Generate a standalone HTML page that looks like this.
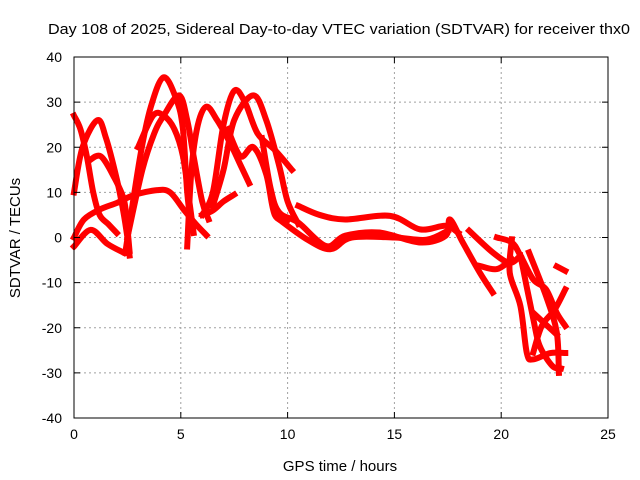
<!DOCTYPE html>
<html><head><meta charset="utf-8"><style>
body{margin:0;background:#fff;}
svg{display:block;font-family:"Liberation Sans",sans-serif;}
</style></head><body>
<svg id="chart" width="640" height="480" viewBox="0 0 640 480" xmlns="http://www.w3.org/2000/svg">
<rect width="640" height="480" fill="#fff"/>
<g id="grid"></g>
<g id="series"></g>
<g id="axes"></g>
<text x="339" y="34" font-size="15" text-anchor="middle" textLength="582" lengthAdjust="spacingAndGlyphs">Day 108 of 2025, Sidereal Day-to-day VTEC variation (SDTVAR) for receiver thx0</text>
<text x="340" y="471" font-size="15" text-anchor="middle">GPS time / hours</text>
<text transform="translate(20,238) rotate(-90)" font-size="15" text-anchor="middle">SDTVAR / TECUs</text>
</svg>
<script>
const xTicks=[0,5,10,15,20,25];
const yTicks=[-40,-30,-20,-10,0,10,20,30,40];
const arcs=[
[[0,27],[0.3,24],[0.6,18],[0.9,10],[1.2,5],[1.6,3],[2.0,1]],
[[0,10],[0.4,20],[1.1,26],[1.5,22],[2,13],[2.3,6],[2.5,0],[2.6,-4]],
[[0.7,17],[1.25,18],[1.87,13.4],[2.34,8.3],[2.5,2],[2.6,-3]],
[[0,-2],[0.78,1.7],[1.56,-1.4],[2.34,-3.4]],
[[0,0],[0.47,4],[1.25,6.3],[2.03,7.7],[2.8,9.4],[3.9,10.5],[4.5,10],[5.15,6.1],[5.7,3],[6.2,0.5]],
[[2.4,-3.4],[3.1,18],[3.6,29],[4.2,35.5],[4.8,30.5],[5.1,24],[5.3,10],[5.5,2]],
[[2.5,0],[3.2,15],[3.75,23],[4.2,27],[4.92,31.5],[5.3,26],[5.6,18],[6.0,8],[6.3,4]],
[[3.0,20],[3.7,27],[4.2,27],[4.7,24],[5.1,18],[5.4,8],[5.6,1]],
[[5.3,-2],[5.5,15],[5.8,25],[6.2,29],[6.7,26],[7.3,21],[7.8,16],[8.2,12]],
[[6,5],[6.5,10],[7,25],[7.5,32.5],[8,30],[8.6,23],[9.4,19.4],[10.2,15]],
[[6.5,7],[7,15],[7.5,26],[8.4,31.5],[9,26],[9.6,16],[10,8],[10.5,3]],
[[6,5],[6.5,6],[7,8],[7.5,9.5]],
[[7.2,24],[7.8,18],[8.4,20],[9,14],[9.4,5],[10,4]],
[[8.8,22],[9.2,11],[9.6,5.6],[10.5,3.3],[11.8,-1.9],[12.7,0.4],[14.3,1.1],[16.2,-1.1],[17.4,0.4],[17.6,4],[18.2,-1.1],[19,-7.8],[19.6,-12.2]],
[[10.5,7],[11.5,5],[12.7,4],[14.8,4.8],[16.2,1.8],[17.4,2.6],[18,1]],
[[9.6,4],[10.9,-0.4],[12,-2.6],[13,0],[15,0],[16.5,-0.5],[17.5,1.5]],
[[18.5,1.5],[19.6,-3.3],[20.4,-5.6],[20.9,-4]],
[[19,-6.3],[19.8,-7],[20.5,-4.8]],
[[19.8,0],[20.5,-1.1],[20.9,-4],[21.5,-9.3],[22.1,-11.5],[22.6,-16.7],[23,-19.6]],
[[20.5,-0.4],[20.4,-7.8],[20.9,-15.2],[21.2,-25.6],[21.5,-27],[22.3,-25.6],[23,-25.6]],
[[21.3,-3.3],[22.1,-13],[22.6,-21],[22.7,-30]],
[[20.9,-4],[21.5,-18],[21.8,-24],[22.4,-28.5],[22.8,-29]],
[[23,-11.5],[22.5,-16],[21.9,-19.6],[21.5,-25.5]],
[[21.5,-16.7],[22.6,-21.5]],
[[22.6,-6.4],[23,-7.4]]
];
const L=74,R=608,T=57,B=418;
const xs=v=>L+(v-0)/25*(R-L);
const ys=v=>B-(v+40)/80*(B-T);
const NS='http://www.w3.org/2000/svg';
const grid=document.getElementById('grid'),axes=document.getElementById('axes'),ser=document.getElementById('series');
function mk(tag,attrs,parent){const e=document.createElementNS(NS,tag);for(const k in attrs)e.setAttribute(k,attrs[k]);parent.appendChild(e);return e;}
xTicks.forEach(t=>{
 const x=xs(t);
 if(t>0&&t<25){const g=mk('line',{x1:x,x2:x,y1:T,y2:B,stroke:'#a0a0a0','stroke-dasharray':'2,3','stroke-width':1},grid);
 
 }
 const tk=mk('path',{d:`M${x},${B}v-6M${x},${T}v6`,stroke:'#000'},axes);
 
 
 const lb=mk('text',{x:x,y:B+21,'font-size':14,'text-anchor':'middle'},axes);lb.textContent=t;
 
 
});
yTicks.forEach(t=>{
 const y=ys(t);
 if(t>-40&&t<40){const g=mk('line',{x1:L,x2:R,y1:y,y2:y,stroke:'#a0a0a0','stroke-dasharray':'2,3','stroke-width':1},grid);
 
 }
 const tk=mk('path',{d:`M${L},${y}h6M${R},${y}h-6`,stroke:'#000'},axes);
 
 
 const lb=mk('text',{x:L-12,y:y+5,'font-size':14,'text-anchor':'end'},axes);lb.textContent=t;
 
 
});
const fr=mk('rect',{x:L,y:T,width:R-L,height:B-T,fill:'none',stroke:'#000','stroke-width':1},axes);


function smooth(pts){
 let d='M'+pts[0][0]+','+pts[0][1];
 for(let i=0;i<pts.length-1;i++){
  const p0=pts[Math.max(0,i-1)],p1=pts[i],p2=pts[i+1],p3=pts[Math.min(pts.length-1,i+2)];
  const c1=[p1[0]+(p2[0]-p0[0])/6,p1[1]+(p2[1]-p0[1])/6];
  const c2=[p2[0]-(p3[0]-p1[0])/6,p2[1]-(p3[1]-p1[1])/6];
  d+=`C${c1[0]},${c1[1]} ${c2[0]},${c2[1]} ${p2[0]},${p2[1]}`;
 }
 return d;
}
arcs.forEach(a=>{
 const pts=a.map(d=>[xs(d[0]),ys(d[1])]);
 const p=mk('path',{d:smooth(pts),fill:'none',stroke:'#ff0000','stroke-width':6,'stroke-linejoin':'round','stroke-linecap':'square'},ser);
 
 
});
</script>
</body></html>
